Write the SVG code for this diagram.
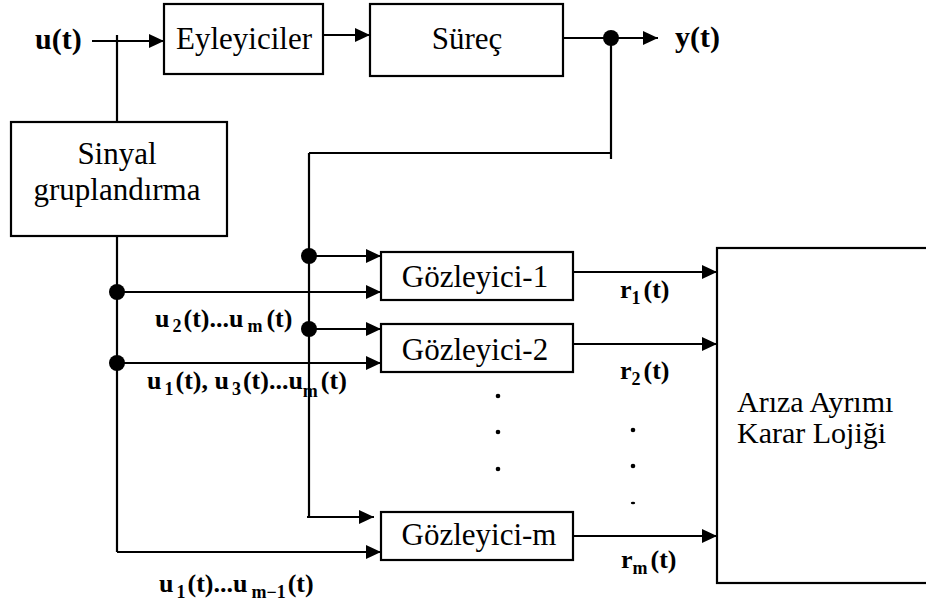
<svg xmlns="http://www.w3.org/2000/svg" width="926" height="607" viewBox="0 0 926 607">
  <style>
    .box { fill: #ffffff; stroke: #000000; stroke-width: 2.2; }
    .wire { fill: none; stroke: #000000; stroke-width: 2.2; }
    .arr { marker-end: url(#head); }
    .joint { fill: #000000; }
    text { font-family: "Liberation Serif", Tinos, "Times New Roman", Times, "Noto Serif", "DejaVu Serif", FreeSerif, Georgia, serif; fill: #000000; }
    .name { font-size: 31px; }
    .name2 { font-size: 30px; }
    .sig { font-weight: bold; font-size: 26px; }
    .io { font-weight: bold; font-size: 30px; }
    .sub { font-size: 18px; }
  </style>
  <defs>
    <marker id="head" markerUnits="userSpaceOnUse" markerWidth="16" markerHeight="15" refX="15" refY="7" orient="auto">
      <path d="M0,0 L15,7 L0,14 Z" fill="#000000"/>
    </marker>
  </defs>

  <!-- connectors -->
  <g id="connectors">
    <path class="wire arr" d="M92,41 H164"/>
    <path class="wire" d="M117,35 V122"/>
    <path class="wire arr" d="M323,35 H370"/>
    <path class="wire arr" d="M563,38 H658"/>
    <path class="wire" d="M611,38 V159"/>
    <path class="wire" d="M309,153 H611"/>
    <path class="wire" d="M309,153 V517"/>
    <path class="wire arr" d="M307,517 H374"/>
    <path class="wire arr" d="M309,256 H381"/>
    <path class="wire arr" d="M309,329 H381"/>
    <path class="wire" d="M117,236 V552"/>
    <path class="wire arr" d="M117,552 H381"/>
    <path class="wire arr" d="M117,292 H381"/>
    <path class="wire arr" d="M117,363 H381"/>
    <path class="wire arr" d="M573,272 H717"/>
    <path class="wire arr" d="M573,344 H717"/>
    <path class="wire arr" d="M573,536 H717"/>
    <circle class="joint" cx="611" cy="38" r="8"/>
    <circle class="joint" cx="309" cy="256" r="8"/>
    <circle class="joint" cx="309" cy="329" r="8"/>
    <circle class="joint" cx="117" cy="292" r="8"/>
    <circle class="joint" cx="117" cy="363" r="8"/>
  </g>

  <!-- signal labels -->
  <g id="labels">
    <text class="io" x="35" y="49">u(t)</text>
    <text class="io" x="675" y="47">y(t)</text>
    <text class="sig" x="155" y="327">u<tspan class="sub" dx="3" dy="5">2</tspan><tspan dx="2" dy="-5">(t)...u</tspan><tspan class="sub" dx="4" dy="5">m</tspan><tspan dx="4" dy="-5">(t)</tspan></text>
    <text class="sig" x="147" y="389">u<tspan class="sub" dx="3" dy="6">1</tspan><tspan dx="2" dy="-6">(t), u</tspan><tspan class="sub" dx="3" dy="6">3</tspan><tspan dx="2" dy="-6">(t)...u</tspan><tspan class="sub" dx="0" dy="8">m</tspan><tspan dx="3" dy="-8">(t)</tspan></text>
    <text class="sig" x="159" y="592">u<tspan class="sub" dx="3" dy="6">1</tspan><tspan dx="2" dy="-6">(t)...u</tspan><tspan class="sub" dx="4" dy="6">m−1</tspan><tspan dx="2" dy="-6">(t)</tspan></text>
    <text class="sig" x="620" y="298">r<tspan class="sub" dy="6">1</tspan><tspan dx="3" dy="-6">(t)</tspan></text>
    <text class="sig" x="620" y="379">r<tspan class="sub" dy="6">2</tspan><tspan dx="3" dy="-6">(t)</tspan></text>
    <text class="sig" x="621" y="568">r<tspan class="sub" dy="6">m</tspan><tspan dx="3" dy="-6">(t)</tspan></text>
  </g>

  <!-- ellipsis dots between observers and between residuals -->
  <g id="ellipsis">
    <circle class="joint" cx="498" cy="396" r="2.3"/>
    <circle class="joint" cx="498" cy="432" r="2.3"/>
    <circle class="joint" cx="498" cy="469" r="2.3"/>
    <circle class="joint" cx="633" cy="430" r="2.3"/>
    <circle class="joint" cx="633" cy="466" r="2.3"/>
    <ellipse class="joint" cx="633" cy="503" rx="2.2" ry="1.2"/>
  </g>

  <g id="eyleyiciler">
    <rect class="box" x="164" y="4" width="159" height="70"/>
    <text class="name" x="244" y="49" text-anchor="middle">Eyleyiciler</text>
  </g>

  <g id="surec">
    <rect class="box" x="370" y="4" width="193" height="72"/>
    <text class="name" x="467" y="49" text-anchor="middle">Süreç</text>
  </g>

  <g id="sinyal-gruplandirma">
    <rect class="box" x="11" y="122" width="216" height="114"/>
    <text class="name" x="117" y="164" text-anchor="middle">Sinyal</text>
    <text class="name" x="117" y="200" text-anchor="middle">gruplandırma</text>
  </g>

  <g id="gozleyici-1">
    <rect class="box" x="381" y="252" width="192" height="48"/>
    <text class="name" x="475" y="287" text-anchor="middle">Gözleyici-1</text>
  </g>

  <g id="gozleyici-2">
    <rect class="box" x="381" y="324" width="192" height="48"/>
    <text class="name" x="475" y="360" text-anchor="middle">Gözleyici-2</text>
  </g>

  <g id="gozleyici-m">
    <rect class="box" x="381" y="512" width="192" height="48"/>
    <text class="name" x="479" y="545" text-anchor="middle">Gözleyici-m</text>
  </g>

  <g id="karar-lojigi">
    <rect class="box" x="717" y="248" width="240" height="335"/>
    <text class="name2" x="737" y="412">Arıza Ayrımı</text>
    <text class="name2" x="737" y="443">Karar Lojiği</text>
  </g>
</svg>
